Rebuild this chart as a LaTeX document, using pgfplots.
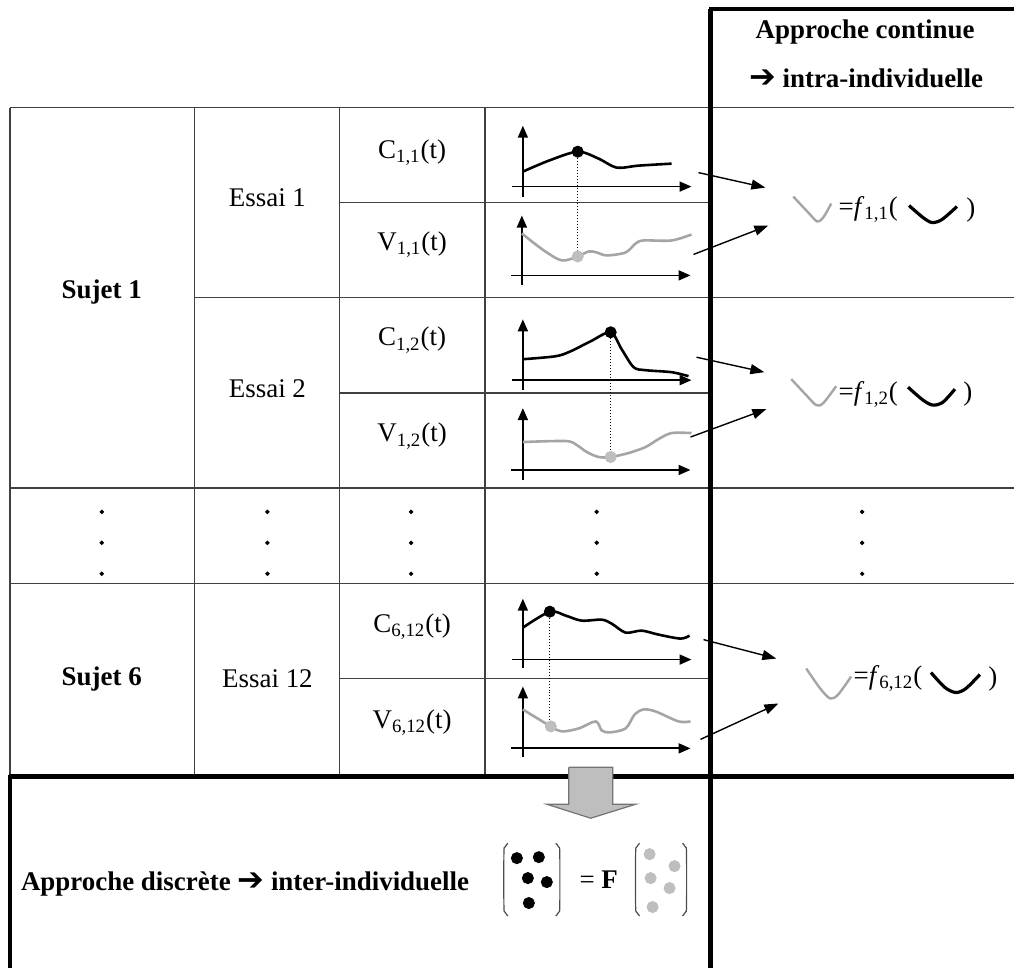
\documentclass[border=0pt]{standalone}
\usepackage{pgfplots}
\pgfplotsset{compat=1.18}
\usepackage{fontspec}
\setmainfont{Liberation Serif}
\newfontfamily\dejavu{DejaVu Sans}
\usetikzlibrary{arrows.meta}
\newcommand\fs{\fontsize{13.5}{16}\selectfont}
\definecolor{lg}{RGB}{165,165,165}
\definecolor{dg}{RGB}{190,190,190}
\begin{document}
\begin{tikzpicture}[every node/.style={font=\fs}]
\begin{axis}[x=0.5pt, y=0.5pt, y dir=reverse, xmin=0, xmax=1016, ymin=0, ymax=970,
  hide axis, clip=false,
  tl/.style={black!75, line width=0.7pt},
  tk/.style={black, line width=2.2pt},
  ax/.style={black, line width=0.9pt, -{Triangle[length=6pt,width=5pt]}},
  cb/.style={black, line width=1.3pt, smooth, tension=0.5},
  cg/.style={lg, line width=1.3pt, smooth, tension=0.5},
  ar/.style={black, line width=0.7pt, -{Triangle[length=7pt,width=5pt]}},
  dt/.style={black, line width=0.5pt, densely dotted}]
% bounding box
\addplot[draw=none] coordinates {(0,0) (1016,970)};
% thin table lines
\addplot[tl] coordinates {(10,108) (10,778)};
\addplot[tl] coordinates {(195,108) (195,778)};
\addplot[tl] coordinates {(340,108) (340,778)};
\addplot[tl] coordinates {(486,108) (486,778)};
\addplot[tl] coordinates {(10,108) (1016,108)};
\addplot[tl] coordinates {(195,298) (1016,298)};
\addplot[tl] coordinates {(10,489) (1016,489)};
\addplot[tl] coordinates {(10,585) (1016,585)};
\addplot[tl] coordinates {(340,203) (712,203)};
\addplot[tl] coordinates {(340,394) (712,394)};
\addplot[tl] coordinates {(340,680) (712,680)};
% thick lines
\addplot[tk] coordinates {(712,9) (712,970)};
\addplot[tk] coordinates {(711,9) (1016,9)};
\addplot[tk] coordinates {(9,778) (1016,778)};
\addplot[tk] coordinates {(10,777) (10,970)};
% header
\node at (axis cs:867,32) {\bfseries Approche continue};
\node at (axis cs:868,78) {{\dejavu\bfseries\fontsize{16}{16}\selectfont ➔} \bfseries intra-individuelle};
% row labels
\node at (axis cs:102,293) {\bfseries Sujet 1};
\node at (axis cs:102,680) {\bfseries Sujet 6};
\node at (axis cs:268,198) {Essai 1};
\node at (axis cs:268,390) {Essai 2};
\node at (axis cs:268,680) {Essai 12};
\node at (axis cs:413,153) {C\textsubscript{1,1}(t)};
\node at (axis cs:413,245) {V\textsubscript{1,1}(t)};
\node at (axis cs:413,341) {C\textsubscript{1,2}(t)};
\node at (axis cs:413,437) {V\textsubscript{1,2}(t)};
\node at (axis cs:413,628) {C\textsubscript{6,12}(t)};
\node at (axis cs:413,724) {V\textsubscript{6,12}(t)};
% vertical ellipsis dots
\addplot[only marks, mark=*, mark size=0.9pt, black] coordinates {
 (102,513) (102,544) (102,575) (268,513) (268,544) (268,575)
 (412,513) (412,544) (412,575) (598,513) (598,544) (598,575)
 (864,513) (864,544) (864,575)};
% ---- mini plot C11
\addplot[ax] coordinates {(524,197) (524,126)};
\addplot[ax] coordinates {(513,187) (693,187)};
\addplot[cb] coordinates {(524,172) (550,161) (579,152) (600,159) (618,168) (640,166) (673,164)};
% V11
\addplot[ax] coordinates {(523,286) (523,216)};
\addplot[ax] coordinates {(512,276) (692,276)};
\addplot[cg] coordinates {(523,234) (545,251) (563,261) (579,257) (590,252) (598,253) (608,256) (627,253) (637,244) (645,241) (673,241) (693,235)};
\addplot[dt] coordinates {(579,152) (579,257)};
\addplot[only marks, mark=*, mark size=2.8pt, black] coordinates {(579,152)};
\addplot[only marks, mark=*, mark size=2.8pt, dg] coordinates {(579,257)};
% C12
\addplot[ax] coordinates {(524,391) (524,320)};
\addplot[ax] coordinates {(513,381) (693,381)};
\addplot[cb] coordinates {(524,360) (557,357) (572,352) (592,342) (612,333) (623,350) (635,368) (647,371) (673,373) (690,377)};
% V12
\addplot[ax] coordinates {(524,481) (524,409)};
\addplot[ax] coordinates {(512,471) (692,471)};
\addplot[cg] coordinates {(524,443) (567,442) (578,446) (588,453) (600,458) (612,458) (630,454) (647,448) (660,440) (673,434) (693,434)};
\addplot[dt] coordinates {(612,333) (612,458)};
\addplot[only marks, mark=*, mark size=2.8pt, black] coordinates {(612,333)};
\addplot[only marks, mark=*, mark size=2.8pt, dg] coordinates {(612,458)};
% C6,12
\addplot[ax] coordinates {(524,669) (524,600)};
\addplot[ax] coordinates {(513,661) (693,661)};
\addplot[cb] coordinates {(524,629) (551,613) (567,617) (583,622) (603,621) (613,625) (627,634) (643,632) (660,636) (682,640) (691,637)};
% V6,12
\addplot[ax] coordinates {(524,759) (524,688)};
\addplot[ax] coordinates {(512,750) (692,750)};
\addplot[cg] coordinates {(524,711) (552,728) (563,733) (580,730) (597,723) (603,732) (611,734) (627,730) (636,716) (645,711) (657,713) (680,723) (692,723)};
\addplot[dt] coordinates {(551,613) (551,728)};
\addplot[only marks, mark=*, mark size=2.8pt, black] coordinates {(551,613)};
\addplot[only marks, mark=*, mark size=2.8pt, dg] coordinates {(552,728)};
% arrows to equations
\addplot[ar] coordinates {(700,173) (767,188)};
\addplot[ar] coordinates {(695,255) (770,226)};
\addplot[ar] coordinates {(698,358) (766,373)};
\addplot[ar] coordinates {(692,438) (768,410)};
\addplot[ar] coordinates {(705,641) (778,660)};
\addplot[ar] coordinates {(702,741) (780,705)};
% equation 1
\addplot[lg, line width=1.2pt, smooth] coordinates {(795,197) (810,213) (819,222) (825,218) (833,204)};
\node[anchor=west, inner sep=0pt] at (axis cs:840,210) {=\textit{f}\textsubscript{1,1}(};
\addplot[black, line width=1.6pt, smooth] coordinates {(911,206) (925,218) (934,223) (944,220) (959,207)};
\node[inner sep=0pt] at (axis cs:973,210) {)};
% equation 2
\addplot[lg, line width=1.2pt, smooth] coordinates {(793,380) (808,396) (818,406) (825,404) (838,387)};
\node[anchor=west, inner sep=0pt] at (axis cs:840,395) {=\textit{f}\textsubscript{1,2}(};
\addplot[black, line width=1.6pt, smooth] coordinates {(910,388) (925,401) (935,406) (945,403) (957,390)};
\node[inner sep=0pt] at (axis cs:970,395) {)};
% equation 3
\addplot[lg, line width=1.2pt, smooth] coordinates {(808,670) (822,690) (832,700) (840,696) (853,678)};
\node[anchor=west, inner sep=0pt] at (axis cs:855,680) {=\textit{f}\textsubscript{6,12}(};
\addplot[black, line width=1.6pt, smooth] coordinates {(933,674) (947,689) (958,694) (968,690) (982,676)};
\node[inner sep=0pt] at (axis cs:995,680) {)};
% big gray arrow
\addplot[fill=dg, draw=black!55, line width=0.6pt] coordinates {(570,769) (614,769) (614,806) (637,806) (592,820) (548,806) (570,806) (570,769)};
% bottom text
\node[anchor=west] at (axis cs:14,886) {\bfseries Approche discrète {\dejavu\fontsize{16}{16}\selectfont ➔} inter-individuelle};
% matrices
\addplot[black!70, line width=0.6pt, smooth] coordinates {(509,845) (506,849) (505,855) (505,908) (506,914) (509,918)};
\addplot[black!70, line width=0.6pt, smooth] coordinates {(557,845) (560,849) (561,855) (561,908) (560,914) (557,918)};
\addplot[black!70, line width=0.6pt, smooth] coordinates {(641,845) (638,849) (637,855) (637,908) (638,914) (641,918)};
\addplot[black!70, line width=0.6pt, smooth] coordinates {(684,845) (687,849) (688,855) (688,908) (687,914) (684,918)};
\addplot[only marks, mark=*, mark size=2.8pt, black] coordinates {(518,860) (540,859) (529,880) (548,884) (530,905)};
\addplot[only marks, mark=*, mark size=2.8pt, dg] coordinates {(651,856) (676,868) (652,880) (671,890) (654,909)};
\node at (axis cs:600,882) {= \textbf{F}};
\end{axis}
\end{tikzpicture}
\end{document}
